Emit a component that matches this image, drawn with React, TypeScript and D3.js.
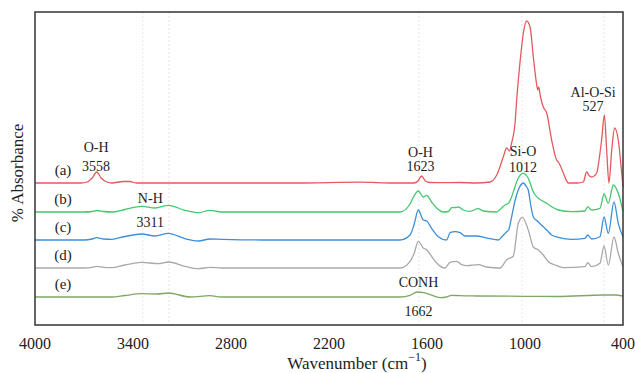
import React from 'react'
import * as d3 from 'd3'

// wavenumber (cm-1), absorbance (a.u.) above each trace baseline
const seriesA: [number, number][] = [
  [4000, 0], [3720, 0], [3680, 0.01], [3650, 0.05], [3622, 0.11], [3595, 0.05], [3560, 0.01], [3530, 0],
  [3460, 0.015], [3420, 0.015], [3380, 0], [2800, 0], [2400, 0], [2010, 0.008], [1800, 0], [1680, 0],
  [1655, 0.02], [1633, 0.07], [1610, 0.02], [1580, 0.005], [1500, 0.003], [1400, 0.005], [1300, 0],
  [1214, 0.01], [1173, 0.08], [1133, 0.26], [1112, 0.35], [1096, 0.32], [1082, 0.4], [1061, 0.6],
  [1051, 0.83], [1031, 1.2], [1010, 1.5], [990, 1.62], [969, 1.56], [949, 1.26], [930, 1.0], [922, 0.93],
  [916, 0.96], [905, 0.86], [888, 0.76], [867, 0.7], [837, 0.43], [806, 0.23], [796, 0.21], [765, 0.1],
  [745, 0.02], [735, 0], [680, 0], [643, 0.01], [623, 0.11], [605, 0.07], [592, 0.06], [561, 0.1],
  [545, 0.25], [531, 0.43], [514, 0.68], [500, 0.33], [486, 0], [469, 0.33], [451, 0.55], [429, 0.43],
  [408, 0.1], [400, -0.04],
]
const seriesB: [number, number][] = [
  [4000, 0], [3700, 0], [3650, 0.005], [3622, 0.015], [3580, 0.005], [3530, 0], [3450, 0.025],
  [3347, 0.057], [3265, 0.04], [3184, 0.067], [3082, 0.017], [3000, -0.007], [2929, 0.017], [2860, 0],
  [2600, 0], [2000, 0], [1765, 0], [1704, 0.08], [1680, 0.16], [1653, 0.21], [1623, 0.15], [1602, 0.167],
  [1572, 0.1], [1541, 0.04], [1500, 0], [1469, 0.005], [1449, 0.043], [1425, 0.045], [1408, 0.05],
  [1378, 0.02], [1337, 0.007], [1286, 0.033], [1255, 0.01], [1174, 0], [1150, 0.03], [1122, 0.07],
  [1100, 0.09], [1082, 0.15], [1060, 0.26], [1041, 0.34], [1010, 0.387], [980, 0.337], [949, 0.2],
  [918, 0.137], [887, 0.105], [867, 0.087], [837, 0.053], [796, 0.02], [714, 0.003], [633, 0.01],
  [616, 0.053], [592, 0.02], [541, 0.037], [516, 0.18], [490, 0.087], [459, 0.27], [429, 0.187], [400, 0.007],
]
const seriesC: [number, number][] = [
  [4000, 0], [3700, 0], [3650, 0.01], [3622, 0.023], [3580, 0.01], [3531, 0.007], [3450, 0.035],
  [3347, 0.06], [3265, 0.04], [3184, 0.067], [3082, 0.013], [3000, -0.01], [2929, 0.01], [2860, 0.007],
  [2600, 0], [2000, 0], [1765, 0], [1704, 0.05], [1680, 0.15], [1653, 0.3], [1623, 0.2], [1602, 0.19],
  [1572, 0.117], [1531, 0.033], [1480, 0], [1459, 0.073], [1429, 0.083], [1398, 0.073], [1367, 0.04],
  [1300, 0.04], [1225, 0.017], [1163, 0], [1143, 0.03], [1112, 0.083], [1100, 0.1], [1082, 0.23],
  [1060, 0.4], [1041, 0.5], [1010, 0.57], [990, 0.53], [980, 0.5], [965, 0.35], [949, 0.23], [918, 0.18],
  [900, 0.15], [867, 0.1], [837, 0.05], [796, 0.027], [714, 0.007], [633, 0.017], [616, 0.05], [592, 0.01],
  [541, 0.033], [516, 0.23], [490, 0.067], [455, 0.38], [429, 0.167], [400, 0.033],
]
const seriesD: [number, number][] = [
  [4000, 0], [3700, 0], [3650, 0.007], [3622, 0.017], [3580, 0.007], [3531, 0.003], [3450, 0.03],
  [3347, 0.057], [3245, 0.043], [3184, 0.06], [3082, 0.017], [3000, -0.007], [2929, 0.007], [2860, 0],
  [2600, 0], [2000, 0], [1765, 0], [1704, 0.067], [1680, 0.14], [1653, 0.267], [1623, 0.2], [1602, 0.183],
  [1572, 0.117], [1541, 0.05], [1490, 0], [1459, 0.057], [1418, 0.067], [1388, 0.033], [1357, 0.023],
  [1286, 0.033], [1235, 0.01], [1153, 0], [1112, 0.083], [1072, 0.117], [1041, 0.447], [1016, 0.507],
  [980, 0.38], [949, 0.21], [918, 0.18], [888, 0.13], [857, 0.063], [816, 0.03], [765, 0.003],
  [633, 0.013], [616, 0.053], [592, 0.013], [541, 0.047], [516, 0.22], [490, 0.03], [455, 0.31],
  [429, 0.147], [400, 0.013],
]
const seriesE: [number, number][] = [
  [4000, 0], [3600, 0], [3530, 0], [3450, 0.015], [3347, 0.033], [3250, 0.03], [3184, 0.04], [3050, 0],
  [2929, 0.013], [2860, 0], [2000, 0], [1765, 0], [1704, 0.017], [1660, 0.05], [1620, 0.043],
  [1580, 0.023], [1520, -0.007], [1480, 0], [1449, 0.017], [1400, 0.013], [1300, 0.01], [1000, 0.007],
  [800, 0.005], [520, 0.02], [450, 0.02], [400, 0.01],
]

const series = [seriesA, seriesB, seriesC, seriesD, seriesE]
const seriesNames = ['(a)', '(b)', '(c)', '(d)', '(e)']
const offsets = [1.42, 1.13, 0.85, 0.57, 0.28]
const colors = ['#e35a5e', '#45c66f', '#3c8fd8', '#a9a9a9', '#7ea863']

const xTicks = [4000, 3400, 2800, 2200, 1600, 1000, 400]
const refLines = [3340, 3180, 1649, 1018, 516]

const peakNames = ['O-H', 'N-H', 'O-H', 'Si-O', 'Al-O-Si', 'CONH']
const peakValues = ['3558', '3311', '1623', '1012', '527', '1662']

const font = '"Times New Roman", Times, Tinos, "Liberation Serif", "DejaVu Serif", "Noto Serif", serif'

export default function App() {
  const width = 635
  const height = 373
  const margin = { top: 12, right: 12, bottom: 48, left: 35 }

  const x = d3.scaleLinear().domain([4000, 400]).range([margin.left, width - margin.right])
  const y = d3.scaleLinear().domain([0, 3.13]).range([height - margin.bottom, margin.top])

  const line = (pts: [number, number][], off: number) =>
    d3.line<[number, number]>()
      .x(d => x(d[0]))
      .y(d => y(d[1] + off))
      .curve(d3.curveMonotoneX)(pts) || ''

  // label layout: [x of name, y of name, y of value] in wavenumber / absorbance
  const peakLayout: [number, number, number][] = [
    [3626, 1.78, 1.59],
    [3294, 1.27, 1.03],
    [1640, 1.73, 1.59],
    [1012, 1.74, 1.58],
    [583, 2.33, 2.19],
    [1652, 0.43, 0.14],
  ]

  const txt = { fontFamily: font, fill: '#222' }

  return (
    <svg width={width} height={height} style={{ position: 'fixed', left: 0, top: 0, background: '#fff' }}>
      {refLines.map(w => (
        <line key={w} x1={x(w)} x2={x(w)} y1={margin.top} y2={height - margin.bottom}
          stroke="#e6e6e6" strokeWidth={1} strokeDasharray="2,2" />
      ))}
      {series.map((s, i) => (
        <path key={i} d={line(s, offsets[i])} fill="none" stroke={colors[i]} strokeWidth={1.3} />
      ))}
      <rect x={margin.left} y={margin.top} width={width - margin.left - margin.right}
        height={height - margin.top - margin.bottom} fill="none" stroke="#333" strokeWidth={1.5} />
      {seriesNames.map((n, i) => (
        <text key={n} x={63} y={y(offsets[i]) - 13} textAnchor="middle" dominantBaseline="central"
          fontSize={15} style={txt}>{n}</text>
      ))}
      {peakNames.map((n, i) => (
        <g key={i} textAnchor="middle">
          <text x={x(peakLayout[i][0])} y={y(peakLayout[i][1])} dominantBaseline="central" fontSize={14} style={txt}>{n}</text>
          <text x={x(peakLayout[i][0])} y={y(peakLayout[i][2])} dominantBaseline="central" fontSize={14} style={txt}>{peakValues[i]}</text>
        </g>
      ))}
      {xTicks.map(t => (
        <text key={t} x={x(t)} y={343} textAnchor="middle" dominantBaseline="central" fontSize={16} style={txt}>{t}</text>
      ))}
      <text x={357} y={363} textAnchor="middle" dominantBaseline="central" fontSize={17} style={txt}>
        Wavenumber (cm<tspan dy={-6} fontSize={12}>−1</tspan><tspan dy={6}>)</tspan>
      </text>
      <text transform="translate(17, 173) rotate(-90)"
        textAnchor="middle" dominantBaseline="central" fontSize={17} style={txt}>% Absorbance</text>
    </svg>
  )
}
